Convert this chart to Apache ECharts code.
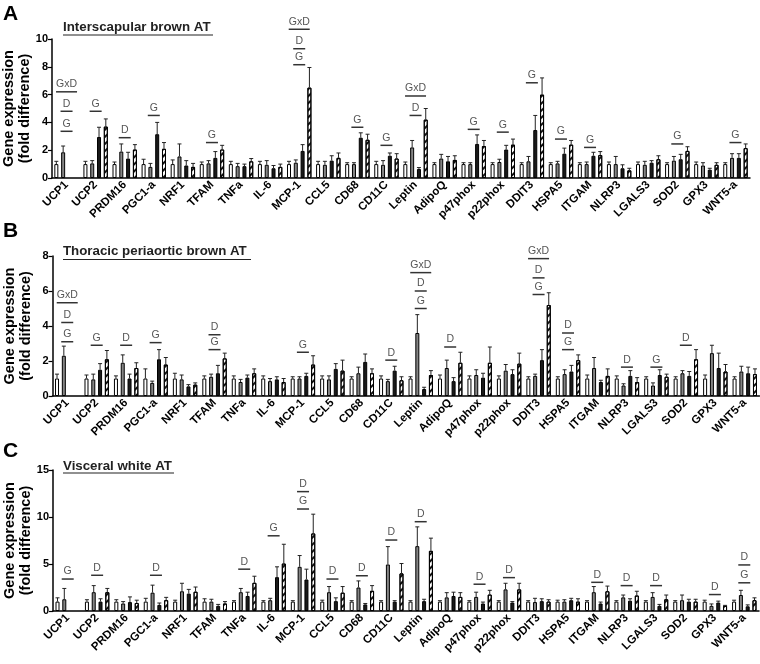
<!DOCTYPE html>
<html><head><meta charset="utf-8">
<script src="https://cdn.jsdelivr.net/npm/echarts@6/dist/echarts.min.js"></script>
<style>html,body{margin:0;padding:0;background:#fff}#c{width:760px;height:664px}</style>
</head><body><div id="c"></div>
<script>
const genes = ['UCP1','UCP2','PRDM16','PGC1-a','NRF1','TFAM','TNFa','IL-6','MCP-1','CCL5','CD68','CD11C','Leptin','AdipoQ','p47phox','p22phox','DDIT3','HSPA5','ITGAM','NLRP3','LGALS3','SOD2','GPX3','WNT5-a'];
const panelTitles = ['Interscapular brown AT','Thoracic periaortic brown AT','Visceral white AT'];
const panelLetters = ['A','B','C'];
const yMax = [10, 8, 15];
const yStep = [2, 2, 5];

// Panel A (means and error-bar tops): white, gray, black, hatched
const aWhite = [1.0,1.0,1.0,1.0,1.0,1.0,1.0,1.0,1.0,1.0,1.0,1.0,1.0,1.0,1.0,1.0,1.0,1.0,1.0,1.0,1.0,1.0,1.0,1.0];
const aGray  = [1.85,1.05,1.9,0.8,1.55,1.05,0.85,0.95,1.1,0.95,1.0,0.95,2.2,1.4,1.0,1.15,1.2,1.05,1.0,1.0,0.95,1.25,0.9,1.45];
const aBlack = [null,2.95,1.4,3.15,0.9,1.45,0.85,0.7,1.95,1.25,2.9,1.6,0.65,1.2,2.45,2.05,3.45,1.75,1.6,0.7,1.1,1.35,0.6,1.45];
const aHatch = [null,3.7,2.05,2.1,0.8,2.05,1.2,0.8,6.5,1.45,2.75,1.4,4.2,1.3,2.3,2.4,6.0,2.4,1.65,0.55,1.35,1.95,0.95,2.15];
const aWhiteTop = [1.2,1.2,1.15,1.35,1.3,1.15,1.2,1.2,1.2,1.2,1.1,1.2,1.15,1.1,1.1,1.1,1.1,1.1,1.1,1.15,1.15,1.1,1.15,1.1];
const aGrayTop  = [2.3,1.25,2.45,1.05,2.45,1.25,1.05,1.25,1.3,1.2,1.1,1.25,2.7,1.7,1.1,1.35,1.55,1.2,1.15,1.55,1.2,1.55,1.1,1.75];
const aBlackTop = [null,3.65,1.85,4.0,1.25,1.9,1.0,0.9,2.4,1.6,3.25,1.8,0.75,1.55,3.1,2.35,4.5,2.15,1.85,0.95,1.25,1.7,0.7,1.75];
const aHatchTop = [null,4.25,2.4,2.55,1.05,2.35,1.4,1.0,7.95,1.8,3.15,1.75,5.0,1.6,2.7,2.8,7.2,2.7,1.9,0.7,1.6,2.25,1.1,2.45];
const aSig = [[0,'G',3.36],[0,'D',4.8],[0,'GxD',6.2],[1,'G',4.8],[2,'D',2.9],[3,'G',4.5],[5,'G',2.55],
  [8,'G',8.15],[8,'D',9.3],[8,'GxD',10.7],[10,'G',3.65],[11,'G',2.35],[12,'D',4.5],[12,'GxD',5.9],
  [14,'G',3.5],[15,'G',3.3],[16,'G',6.85],[17,'G',2.8],[18,'G',2.2],[21,'G',2.45],[23,'G',2.55]];

// Panel B
const bWhite = [1.0,1.0,1.0,1.0,1.0,1.0,1.0,1.0,1.0,1.0,1.0,1.0,1.0,1.0,1.0,1.0,1.0,1.0,1.0,1.0,1.0,1.0,1.0,1.0];
const bGray  = [2.3,0.95,1.9,0.75,0.95,1.1,0.8,0.85,1.0,0.95,1.3,0.85,3.6,1.6,1.2,1.45,1.15,1.25,1.6,0.6,0.6,1.3,2.45,1.4];
const bBlack = [null,1.5,1.0,2.1,0.55,1.3,1.05,0.95,1.15,1.55,1.95,1.45,0.4,0.85,1.05,1.25,2.05,1.4,0.8,1.15,1.2,1.15,1.6,1.3];
const bHatch = [null,2.1,1.6,1.8,0.65,2.15,1.3,0.8,1.8,1.45,1.3,0.9,1.2,1.9,1.9,1.85,5.2,2.05,1.15,0.8,1.1,2.1,1.4,1.25];
const bWhiteTop = [1.25,1.2,1.15,1.55,1.3,1.15,1.15,1.15,1.1,1.15,1.1,1.15,1.1,1.2,1.15,1.15,1.1,1.1,1.2,1.15,1.1,1.1,1.2,1.1];
const bGrayTop  = [2.85,1.25,2.35,0.85,1.2,1.25,0.95,1.0,1.1,1.15,1.65,0.95,4.65,2.05,1.5,1.8,1.25,1.5,2.2,0.7,0.75,1.45,2.9,1.7];
const bBlackTop = [null,1.85,1.25,2.65,0.65,1.75,1.2,1.1,1.3,1.85,2.4,1.7,0.5,1.05,1.3,1.5,2.65,1.75,0.9,1.45,1.5,1.4,2.45,1.65];
const bHatchTop = [null,2.6,1.9,2.2,0.75,2.45,1.55,1.0,2.3,2.05,1.55,1.1,1.45,2.5,2.8,2.45,5.9,2.35,1.55,1.05,1.25,2.65,1.8,1.55];
const bSig = [[0,'G',3.1],[0,'D',4.2],[0,'GxD',5.33],[1,'G',2.9],[2,'D',2.9],[3,'G',3.05],[5,'G',2.65],[5,'D',3.5],
  [8,'G',2.5],[11,'D',2.05],[12,'G',5.0],[12,'D',6.0],[12,'GxD',7.05],[13,'D',2.8],
  [16,'G',5.8],[16,'D',6.75],[16,'GxD',7.85],[17,'G',2.65],[17,'D',3.6],[19,'D',1.65],[20,'G',1.65],[21,'D',2.9]];

// Panel C
const cWhite = [1.0,1.0,1.0,1.0,1.0,1.0,1.0,1.0,1.0,1.0,1.0,1.0,1.0,1.0,1.0,1.0,1.0,1.0,1.0,1.0,1.0,1.0,1.0,1.0];
const cGray  = [1.25,2.0,0.8,1.95,2.1,1.0,2.0,1.15,4.7,2.0,2.5,4.95,6.9,1.45,1.5,2.3,0.95,1.0,2.0,1.45,1.5,1.15,0.55,1.7];
const cBlack = [null,1.0,0.95,0.65,1.85,0.55,1.6,3.6,3.35,1.05,0.7,1.0,1.05,1.6,0.8,0.9,1.05,1.15,0.8,1.1,0.55,1.0,0.9,0.5];
const cHatch = [null,2.0,0.85,1.15,2.05,0.8,3.0,5.05,8.25,1.95,2.15,4.0,6.4,1.5,1.75,2.3,1.0,1.0,2.1,1.65,1.25,1.0,0.55,1.15];
const cWhiteTop = [1.4,1.2,1.2,1.35,1.15,1.3,1.1,1.1,1.1,1.15,1.1,1.1,1.1,1.1,1.1,1.1,1.1,1.15,1.1,1.1,1.1,1.1,1.15,1.15];
const cGrayTop  = [2.4,2.7,1.0,2.75,2.95,1.25,2.4,1.35,5.9,2.6,3.2,6.85,8.95,1.95,2.0,2.95,1.35,1.2,2.6,1.7,1.95,1.7,0.75,2.2];
const cBlackTop = [null,1.3,1.5,0.85,2.3,0.7,2.0,4.7,4.45,1.4,0.8,1.1,1.25,2.0,0.95,1.0,1.3,1.35,0.95,1.3,0.7,1.25,1.05,0.65];
const cHatchTop = [null,2.4,1.15,1.45,2.55,1.0,3.7,7.1,10.3,2.6,2.7,5.05,7.75,1.95,2.2,2.95,1.2,1.3,2.65,2.1,1.7,1.25,0.6,1.4];
const cSig = [[0,'G',3.4],[1,'D',3.8],[3,'D',3.8],[6,'D',4.45],[7,'G',8.0],[8,'G',10.85],[8,'D',12.7],
  [9,'D',3.4],[10,'D',3.75],[11,'D',7.55],[12,'D',9.5],[14,'D',2.85],[15,'D',3.55],
  [18,'D',3.05],[19,'D',2.7],[20,'D',2.7],[22,'D',1.75],[23,'G',3.0],[23,'D',4.9]];

const FONT = '"Liberation Sans", Arial, Helvetica, sans-serif';
const BAR_W = 4, BAR_GAP = 0.7, PITCH = BAR_W * (1 + BAR_GAP);

const panels = [
  {means:[aWhite,aGray,aBlack,aHatch], tops:[aWhiteTop,aGrayTop,aBlackTop,aHatchTop], sig:aSig},
  {means:[bWhite,bGray,bBlack,bHatch], tops:[bWhiteTop,bGrayTop,bBlackTop,bHatchTop], sig:bSig},
  {means:[cWhite,cGray,cBlack,cHatch], tops:[cWhiteTop,cGrayTop,cBlackTop,cHatchTop], sig:cSig}
];
const grids = [
  {left:52, top:39, width:698, height:139, outerBoundsMode:'none', containLabel:false},
  {left:52.5, top:256, width:707, height:140, outerBoundsMode:'none', containLabel:false},
  {left:53, top:470, width:706, height:141, outerBoundsMode:'none', containLabel:false}
];

const barStyles = [
  {color:'#ffffff', borderColor:'#000', borderWidth:1},
  {color:'#858585', borderColor:'#000', borderWidth:1},
  {color:'#1a1a1a', borderColor:'#000', borderWidth:1},
  {color:'#ffffff', borderColor:'#000', borderWidth:1,
    decal:{symbol:'rect', symbolSize:1, color:'#111', dashArrayX:[1,0], dashArrayY:[2,2.5], rotation:-Math.PI/4}}
];

function errRender(params, api){
  const cat = api.value(0), k = api.value(1), m = api.value(2), t = api.value(3);
  const p0 = api.coord([cat, m]), p1 = api.coord([cat, t]);
  const x = p0[0] + (k - 1.5) * PITCH;
  return {type:'group', children:[
    {type:'line', shape:{x1:x, y1:p0[1], x2:x, y2:p1[1]}, style:{stroke:'#222', lineWidth:1}},
    {type:'line', shape:{x1:x-2, y1:p1[1], x2:x+2, y2:p1[1]}, style:{stroke:'#222', lineWidth:1}}
  ]};
}
function makeSigRender(sig){
  return function(params, api){
    const s = sig[params.dataIndex];
    const p = api.coord([api.value(0), api.value(1)]);
    const w = s[1].length > 1 ? 21 : 12;
    return {type:'group', children:[
      {type:'line', shape:{x1:p[0]-w/2, y1:p[1], x2:p[0]+w/2, y2:p[1]}, style:{stroke:'#333', lineWidth:1.5}},
      {type:'text', x:p[0], y:p[1]-2, style:{text:s[1], align:'center', verticalAlign:'bottom', textAlign:'center', textVerticalAlign:'bottom', fontSize:10.5, fontFamily:FONT, fill:'#555'}}
    ]};
  };
}

const xAxes = [], yAxes = [], series = [];
panels.forEach((pn, p) => {
  xAxes.push({type:'category', gridIndex:p, data:genes,
    axisLine:{lineStyle:{color:'#000', width:1.5}},
    axisTick:{alignWithLabel:true, length:4, lineStyle:{color:'#000', width:1.2}},
    axisLabel:{interval:0, rotate:45, margin:5, color:'#000', fontSize:11.5, fontWeight:'bold', fontFamily:FONT}});
  yAxes.push({type:'value', gridIndex:p, min:0, max:yMax[p], interval:yStep[p],
    name:'Gene expression\n(fold difference)', nameLocation:'middle', nameGap:19, nameMoveOverlap:false,
    nameTextStyle:{fontSize:14.5, fontWeight:'bold', color:'#000', lineHeight:16, fontFamily:FONT},
    splitLine:{show:false},
    axisLine:{show:true, lineStyle:{color:'#000', width:1.5}},
    axisTick:{show:true, length:4, lineStyle:{color:'#000', width:1.2}},
    axisLabel:{color:'#000', fontSize:11, fontWeight:'bold', margin:4, fontFamily:FONT}});
  for (let k = 0; k < 4; k++) {
    series.push({type:'bar', xAxisIndex:p, yAxisIndex:p, data:pn.means[k], barWidth:BAR_W, barGap:(BAR_GAP*100)+'%',
      itemStyle:barStyles[k], z:2, silent:true});
  }
  const err = [];
  for (let k = 0; k < 4; k++) pn.means[k].forEach((m, i) => { if (m != null) err.push([i, k, m, pn.tops[k][i]]); });
  series.push({type:'custom', xAxisIndex:p, yAxisIndex:p, data:err, encode:{x:0, y:3}, renderItem:errRender, z:3, silent:true});
  series.push({type:'custom', xAxisIndex:p, yAxisIndex:p, data:pn.sig.map(s => [s[0], s[2]]), encode:{x:0, y:1},
    renderItem:makeSigRender(pn.sig), clip:false, z:4, silent:true});
});

const titles = [];
const letterTops = [4, 221, 441], titleTops = [21, 245, 460];
panels.forEach((pn, p) => {
  titles.push({text:panelLetters[p], left:3, top:letterTops[p], padding:0, textStyle:{fontSize:21, fontWeight:'bold', color:'#000', fontFamily:FONT}});
  titles.push({text:panelTitles[p], left:63, top:titleTops[p], padding:0, textStyle:{fontSize:13.3, fontWeight:'bold', color:'#222', fontFamily:FONT}});
});
const underlines = [[63,213,35],[63,251,259.5],[63,174,473]].map(u => ({type:'line', shape:{x1:u[0], y1:u[2], x2:u[1], y2:u[2]}, style:{stroke:'#222', lineWidth:1.2}}));

const chart = echarts.init(document.getElementById('c'), null, {renderer:'canvas'});
chart.setOption({
  animation:false,
  backgroundColor:'#fff',
  title:titles,
  grid:grids,
  xAxis:xAxes,
  yAxis:yAxes,
  series:series,
  graphic:underlines
});
</script></body></html>
